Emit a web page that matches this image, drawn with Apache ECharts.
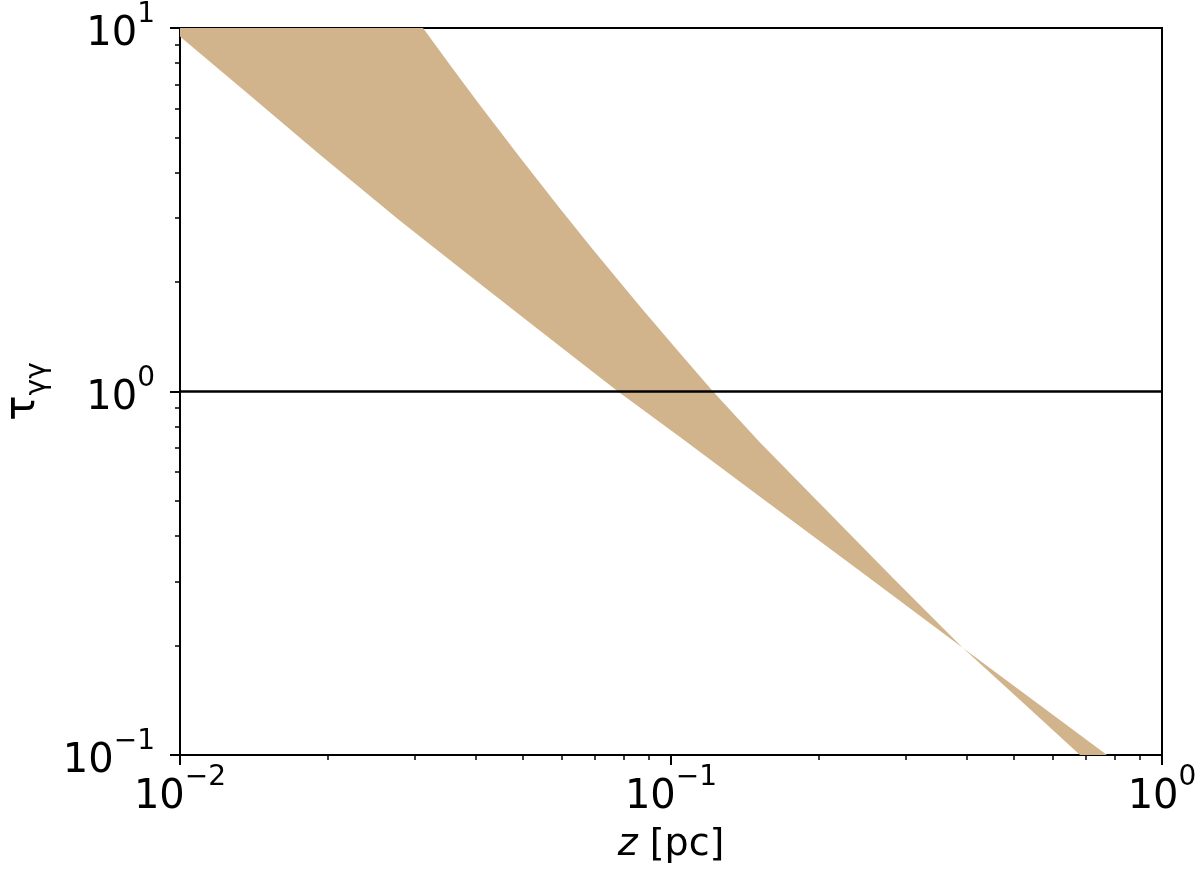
<!DOCTYPE html>
<html>
<head>
<meta charset="utf-8">
<script src="https://cdn.jsdelivr.net/npm/echarts@6/dist/echarts.min.js"></script>
<style>
  html, body { margin: 0; background: #fff; }
  #chart { width: 1200px; height: 870px; }
</style>
</head>
<body>
<div id="chart"></div>
<script>
// band edges (z in pc, tau dimensionless)
// steep edge: upper side on the left, clipped by the top of the axes
const steepZ   = [0.01, 0.03126, 0.03548, 0.04083, 0.04926, 0.0594, 0.0694, 0.0865, 0.1043, 0.1218, 0.1518, 0.204, 0.2832, 0.3932, 0.5139, 0.6808];
const steepTau = [10,   10,      7.91,    6.13,    4.40,    3.185,  2.456,  1.714,  1.274,  1.0,    0.724,  0.4816, 0.307, 0.197,  0.1417, 0.1];
// shallow edge: lower side on the left
const shallowZ   = [0.01, 0.01389, 0.01928, 0.02806, 0.03897, 0.0541, 0.078, 0.1043, 0.1518, 0.2426, 0.3932, 0.7727];
const shallowTau = [9.48, 6.52,    4.48,    2.95,    2.08,    1.47,   1.0,   0.750,  0.513,  0.321,  0.197,  0.1];

const tauOne = 1;              // horizontal reference line
const zRange = [0.01, 1];
const tauRange = [0.1, 10];

const xMajorTicks = [0.01, 0.1, 1];
const xMinorTicks = [0.02, 0.03, 0.04, 0.05, 0.06, 0.07, 0.08, 0.09, 0.2, 0.3, 0.4, 0.5, 0.6, 0.7, 0.8, 0.9];
const yMajorTicks = [0.1, 1, 10];
const yMinorTicks = [0.2, 0.3, 0.4, 0.5, 0.6, 0.7, 0.8, 0.9, 2, 3, 4, 5, 6, 7, 8, 9];

const FONT = 'DejaVu Sans';

const chart = echarts.init(document.getElementById('chart'));

// 10^n labels with a raised exponent
function powLabel(v) {
    const e = Math.round(Math.log10(v));
    return '{b|10}{s|' + (e < 0 ? '\u2212' + (-e) : e) + '}';
}
const powRich = {
    b: { fontSize: 40, lineHeight: 54, verticalAlign: 'bottom', fontFamily: FONT, color: '#000' },
    s: { fontSize: 28, verticalAlign: 'top', fontFamily: FONT, color: '#000' }
};

const bandPts = steepZ.map((z, i) => [z, steepTau[i]])
    .concat(shallowZ.map((z, i) => [z, shallowTau[i]]).reverse());

function majorAxis(dir, range, ticks) {
    return {
        type: 'log', logBase: 10, min: range[0], max: range[1],
        axisLine: { show: true, lineStyle: { color: '#000', width: 2 } },
        axisTick: { show: true, inside: false, length: 10, lineStyle: { color: '#000', width: 2 }, customValues: ticks },
        axisLabel: { customValues: ticks, formatter: powLabel, rich: powRich, margin: dir === 'x' ? 9 : 25 },
        splitLine: { show: false },
        minorTick: { show: false }
    };
}
function minorAxis(range, ticks) {
    return {
        type: 'log', logBase: 10, min: range[0], max: range[1],
        axisLine: { show: false },
        axisTick: { show: true, inside: false, length: 5, lineStyle: { color: '#000', width: 1.5 }, customValues: ticks },
        axisLabel: { show: false },
        splitLine: { show: false }
    };
}

const xMain = majorAxis('x', zRange, xMajorTicks);
xMain.position = 'bottom';
xMain.name = '{i|z} [pc]';
xMain.nameLocation = 'middle';
xMain.nameGap = 71;
xMain.nameTextStyle = {
    fontSize: 38, fontFamily: FONT, color: '#000',
    rich: { i: { fontSize: 38, fontFamily: FONT, fontStyle: 'italic', color: '#000' } }
};
const xMinor = minorAxis(zRange, xMinorTicks);
xMinor.position = 'bottom';

const yMain = majorAxis('y', tauRange, yMajorTicks);
yMain.position = 'left';
yMain.name = '{t|τ}{g|γγ}';
yMain.nameLocation = 'middle';
yMain.nameGap = 126;
yMain.nameTextStyle = {
    fontFamily: FONT, color: '#000',
    rich: {
        t: { fontSize: 42, lineHeight: 50, verticalAlign: 'top', fontFamily: FONT, color: '#000' },
        g: { fontSize: 28, verticalAlign: 'bottom', fontFamily: FONT, color: '#000' }
    }
};
const yMinor = minorAxis(tauRange, yMinorTicks);
yMinor.position = 'left';

chart.setOption({
    backgroundColor: '#fff',
    animation: false,
    grid: {
        left: 180, top: 28, right: 38, bottom: 115,
        show: true, borderColor: '#000', borderWidth: 2,
        outerBoundsMode: 'none'
    },
    xAxis: [xMain, xMinor],
    yAxis: [yMain, yMinor],
    series: [
        {
            type: 'custom',
            xAxisIndex: 0, yAxisIndex: 0,
            silent: true,
            z: 1,
            data: [[0.1, 1]],
            renderItem: (params, api) => ({
                type: 'polygon',
                shape: { points: bandPts.map(p => api.coord(p)) },
                style: { fill: '#d2b48c' }
            })
        },
        {
            type: 'line',
            xAxisIndex: 0, yAxisIndex: 0,
            silent: true,
            z: 3,
            symbol: 'none',
            data: [[zRange[0], tauOne], [zRange[1], tauOne]],
            lineStyle: { color: '#000', width: 2.5 }
        }
    ]
});
</script>
</body>
</html>
